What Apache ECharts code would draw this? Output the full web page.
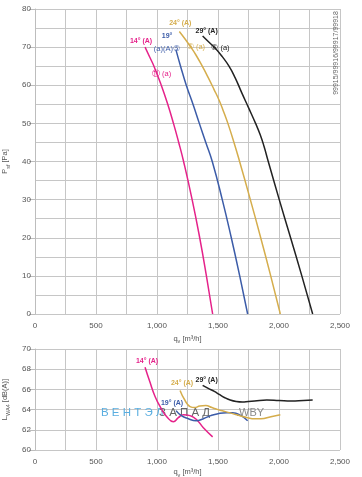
<!DOCTYPE html>
<html><head><meta charset="utf-8">
<script src="https://cdn.jsdelivr.net/npm/echarts@6/dist/echarts.min.js"></script>
<style>html,body{margin:0;padding:0;background:#fff}#c{width:362px;height:477px}</style>
</head><body><div id="c"></div>
<script>
// ---- data (q_v in m3/h, P_sf in Pa, L in dB(A)) ----
const xTicks = [0, 500, 1000, 1500, 2000, 2500];
const angles = ['14°', '19°', '24°', '29°'];
const colors = ['#e5228a', '#3c5ca8', '#d5ad4c', '#222222'];

const p14 = [[902,70],[940,67.4],[975,65],[1035,60],[1088,55],[1135,50],[1178,45],[1218,40],[1288,30],[1350,20],[1405,10],[1456,0]];
const p19 = [[1156,69.2],[1193,65],[1240,60],[1295,55],[1347,50],[1400,45],[1453,40],[1535,30],[1609,20],[1678,10],[1743,0]];
const p24 = [[1183,74.1],[1233,72],[1277,70],[1318,68],[1371,65],[1420,62],[1466,59],[1510,56],[1547,53],[1581,50],[1631,45],[1677,40],[1765,30],[1850,20],[1932,10],[2011,0]];
const p29 = [[1374,72.9],[1435,71],[1478,69.7],[1535,67.5],[1590,65],[1640,62],[1695,58],[1752,54],[1808,50],[1846,47],[1877,44],[1912,40],[2002,30],[2095,20],[2187,10],[2276,0]];

const l14 = [[902,68.2],[940,66.8],[984,65.3],[1030,64.2],[1080,63.3],[1134,62.8],[1175,63.2],[1216,63.5],[1270,63.4],[1325,63.0],[1380,62.2],[1456,61.3]];
const l19 = [[1156,63.9],[1200,63.4],[1257,63.1],[1320,62.9],[1380,63.1],[1440,63.4],[1500,63.6],[1571,63.7],[1620,63.7],[1689,63.4],[1743,62.9]];
const l24 = [[1189,65.9],[1230,64.9],[1271,64.3],[1310,64.2],[1350,64.35],[1400,64.4],[1450,64.2],[1500,64.0],[1560,63.8],[1620,63.6],[1680,63.4],[1743,63.2],[1800,63.1],[1852,63.1],[1934,63.3],[2011,63.5]];
const l29 = [[1374,66.4],[1420,66.1],[1470,65.8],[1510,65.5],[1552,65.2],[1600,64.95],[1650,64.8],[1700,64.75],[1750,64.8],[1800,64.85],[1900,64.95],[2000,64.9],[2100,64.85],[2200,64.9],[2276,64.95]];

// operating point markers on the pressure curves
const opPoints = [[1000,63.3],[1156,69.2],[1277,70],[1478,69.7]];
const opTexts = ['⑪ (a)', '(a)(A)⑤', '⑤ (a)', '⑥ (a)'];
const sideText = '99915/99916/99917/99918';

const FONT = 'Liberation Sans, Arial, sans-serif';
const chart = echarts.init(document.getElementById('c'));

const nameRich = {
  q: { fontSize: 7.5, color: '#555', fontFamily: FONT, verticalAlign: 'middle', lineHeight: 12 },
  s: { fontSize: 5.5, color: '#555', fontFamily: FONT, verticalAlign: 'bottom', lineHeight: 5 }
};

function xAxisCfg(gi) {
  return {
    type: 'value', gridIndex: gi, min: 0, max: 2500, interval: 500,
    name: '{q|q}{s|v}{q| [m³/h]}', nameLocation: 'middle', nameGap: gi === 0 ? 17 : 16,
    nameTextStyle: { rich: nameRich },
    axisLine: { show: false }, axisTick: { show: false },
    axisLabel: { fontSize: 8, color: '#555', fontFamily: FONT, margin: 8,
      formatter: v => v >= 1000 ? Math.floor(v/1000) + ',' + String(v % 1000).padStart(3, '0') : String(v) },
    splitLine: { show: true, lineStyle: { color: '#c6c6c6', width: 1 } },
    minorTick: { show: false, splitNumber: 2 },
    minorSplitLine: { show: true, lineStyle: { color: '#c6c6c6', width: 1 } }
  };
}

function mkLine(data, ci, xi, yi, extra) {
  return Object.assign({
    type: 'line', data: data, xAxisIndex: xi, yAxisIndex: yi, smooth: 0.5,
    symbol: 'none', lineStyle: { color: colors[ci], width: 1.5 }, itemStyle: { color: colors[ci] },
    silent: true, animation: false, z: 3
  }, extra || {});
}

function labelMP(coord, text, ci, offset, align, bold, size) {
  return {
    coord: coord, symbol: 'circle', symbolSize: 1, itemStyle: { color: 'rgba(0,0,0,0)' },
    label: { show: true, formatter: text, position: 'inside', offset: offset, align: align || 'center',
      fontSize: size || 7, fontWeight: bold === false ? 'normal' : 'bold', color: colors[ci], fontFamily: FONT }
  };
}

const pres = [p14, p19, p24, p29];
const lev = [l14, l19, l24, l29];
const topOffs = [[-4,-6],[-9,-14],[1,-8],[4,-5]];
const topTitles = ['14° (A)', '19°', '24° (A)', '29° (A)'];
const botOffs = [[2,-6],[-4,-8],[2,-7],[4,-5]];
const opOffs = [[-5,1],[4,-1],[-4,0],[-4,0]];
const opAlign = ['left','right','left','left'];

const series = [];
for (let i = 0; i < 4; i++) {
  const mp = [labelMP(pres[i][0], topTitles[i], i, topOffs[i])];
  mp.push(labelMP(opPoints[i], opTexts[i], i, opOffs[i], opAlign[i], false, 7.5));
  series.push(mkLine(pres[i], i, 0, 0, { markPoint: { silent: true, data: mp, animation: false } }));
}
for (let i = 0; i < 4; i++) {
  series.push(mkLine(lev[i], i, 1, 1, { markPoint: { silent: true, animation: false,
    data: [labelMP(lev[i][0], angles[i] + ' (A)', i, botOffs[i])] } }));
}

const option = {
  animation: false,
  grid: [
    { left: 35, top: 9, width: 305, height: 305, containLabel: false, outerBoundsMode: 'none' },
    { left: 35, top: 349, width: 305, height: 101, containLabel: false, outerBoundsMode: 'none' }
  ],
  xAxis: [xAxisCfg(0), xAxisCfg(1)],
  yAxis: [
    { type: 'value', gridIndex: 0, min: 0, max: 80, interval: 10,
      name: '{q|P}{s|sf}{q| [Pa]}', nameLocation: 'middle', nameGap: 18, nameRotate: 90,
      nameTextStyle: { rich: nameRich },
      axisLine: { show: true, lineStyle: { color: '#bdbdbd' } },
      axisTick: { show: true, length: 6, lineStyle: { color: '#bdbdbd' } },
      axisLabel: { fontSize: 8, color: '#555', fontFamily: FONT, margin: 4 },
      splitLine: { show: true, lineStyle: { color: '#c6c6c6' } },
      minorTick: { show: false, splitNumber: 2 },
      minorSplitLine: { show: true, lineStyle: { color: '#c6c6c6' } } },
    { type: 'value', gridIndex: 1, min: 60, max: 70, interval: 2,
      name: '{q|L}{s|WA4}{q| [dB(A)]}', nameLocation: 'middle', nameGap: 18, nameRotate: 90,
      nameTextStyle: { rich: nameRich },
      axisLine: { show: true, lineStyle: { color: '#bdbdbd' } },
      axisTick: { show: true, length: 6, lineStyle: { color: '#bdbdbd' } },
      axisLabel: { fontSize: 8, color: '#555', fontFamily: FONT, margin: 4 },
      splitLine: { show: true, lineStyle: { color: '#c6c6c6' } } }
  ],
  graphic: [
    { type: 'text', x: 336, y: 53, rotation: Math.PI / 2, z: 1,
      style: { text: sideText, fontSize: 7, fill: '#666', fontFamily: FONT, align: 'center', verticalAlign: 'middle' } },
    { type: 'text', x: 101, y: 413, z: 1,
      style: { text: 'В Е Н Т Э Л', fontSize: 11.5, fill: '#5aaee0', fontFamily: FONT, align: 'left', verticalAlign: 'middle' } },
    { type: 'text', x: 159, y: 413, z: 1,
      style: { text: 'З А П А Д', fontSize: 11.5, fill: '#666', fontFamily: FONT, align: 'left', verticalAlign: 'middle' } },
    { type: 'text', x: 236, y: 413, z: 1,
      style: { text: '.WBY', fontSize: 11, fill: '#8a8a8a', fontFamily: FONT, align: 'left', verticalAlign: 'middle' } }
  ],
  series: series
};
chart.setOption(option);
</script>
</body></html>
